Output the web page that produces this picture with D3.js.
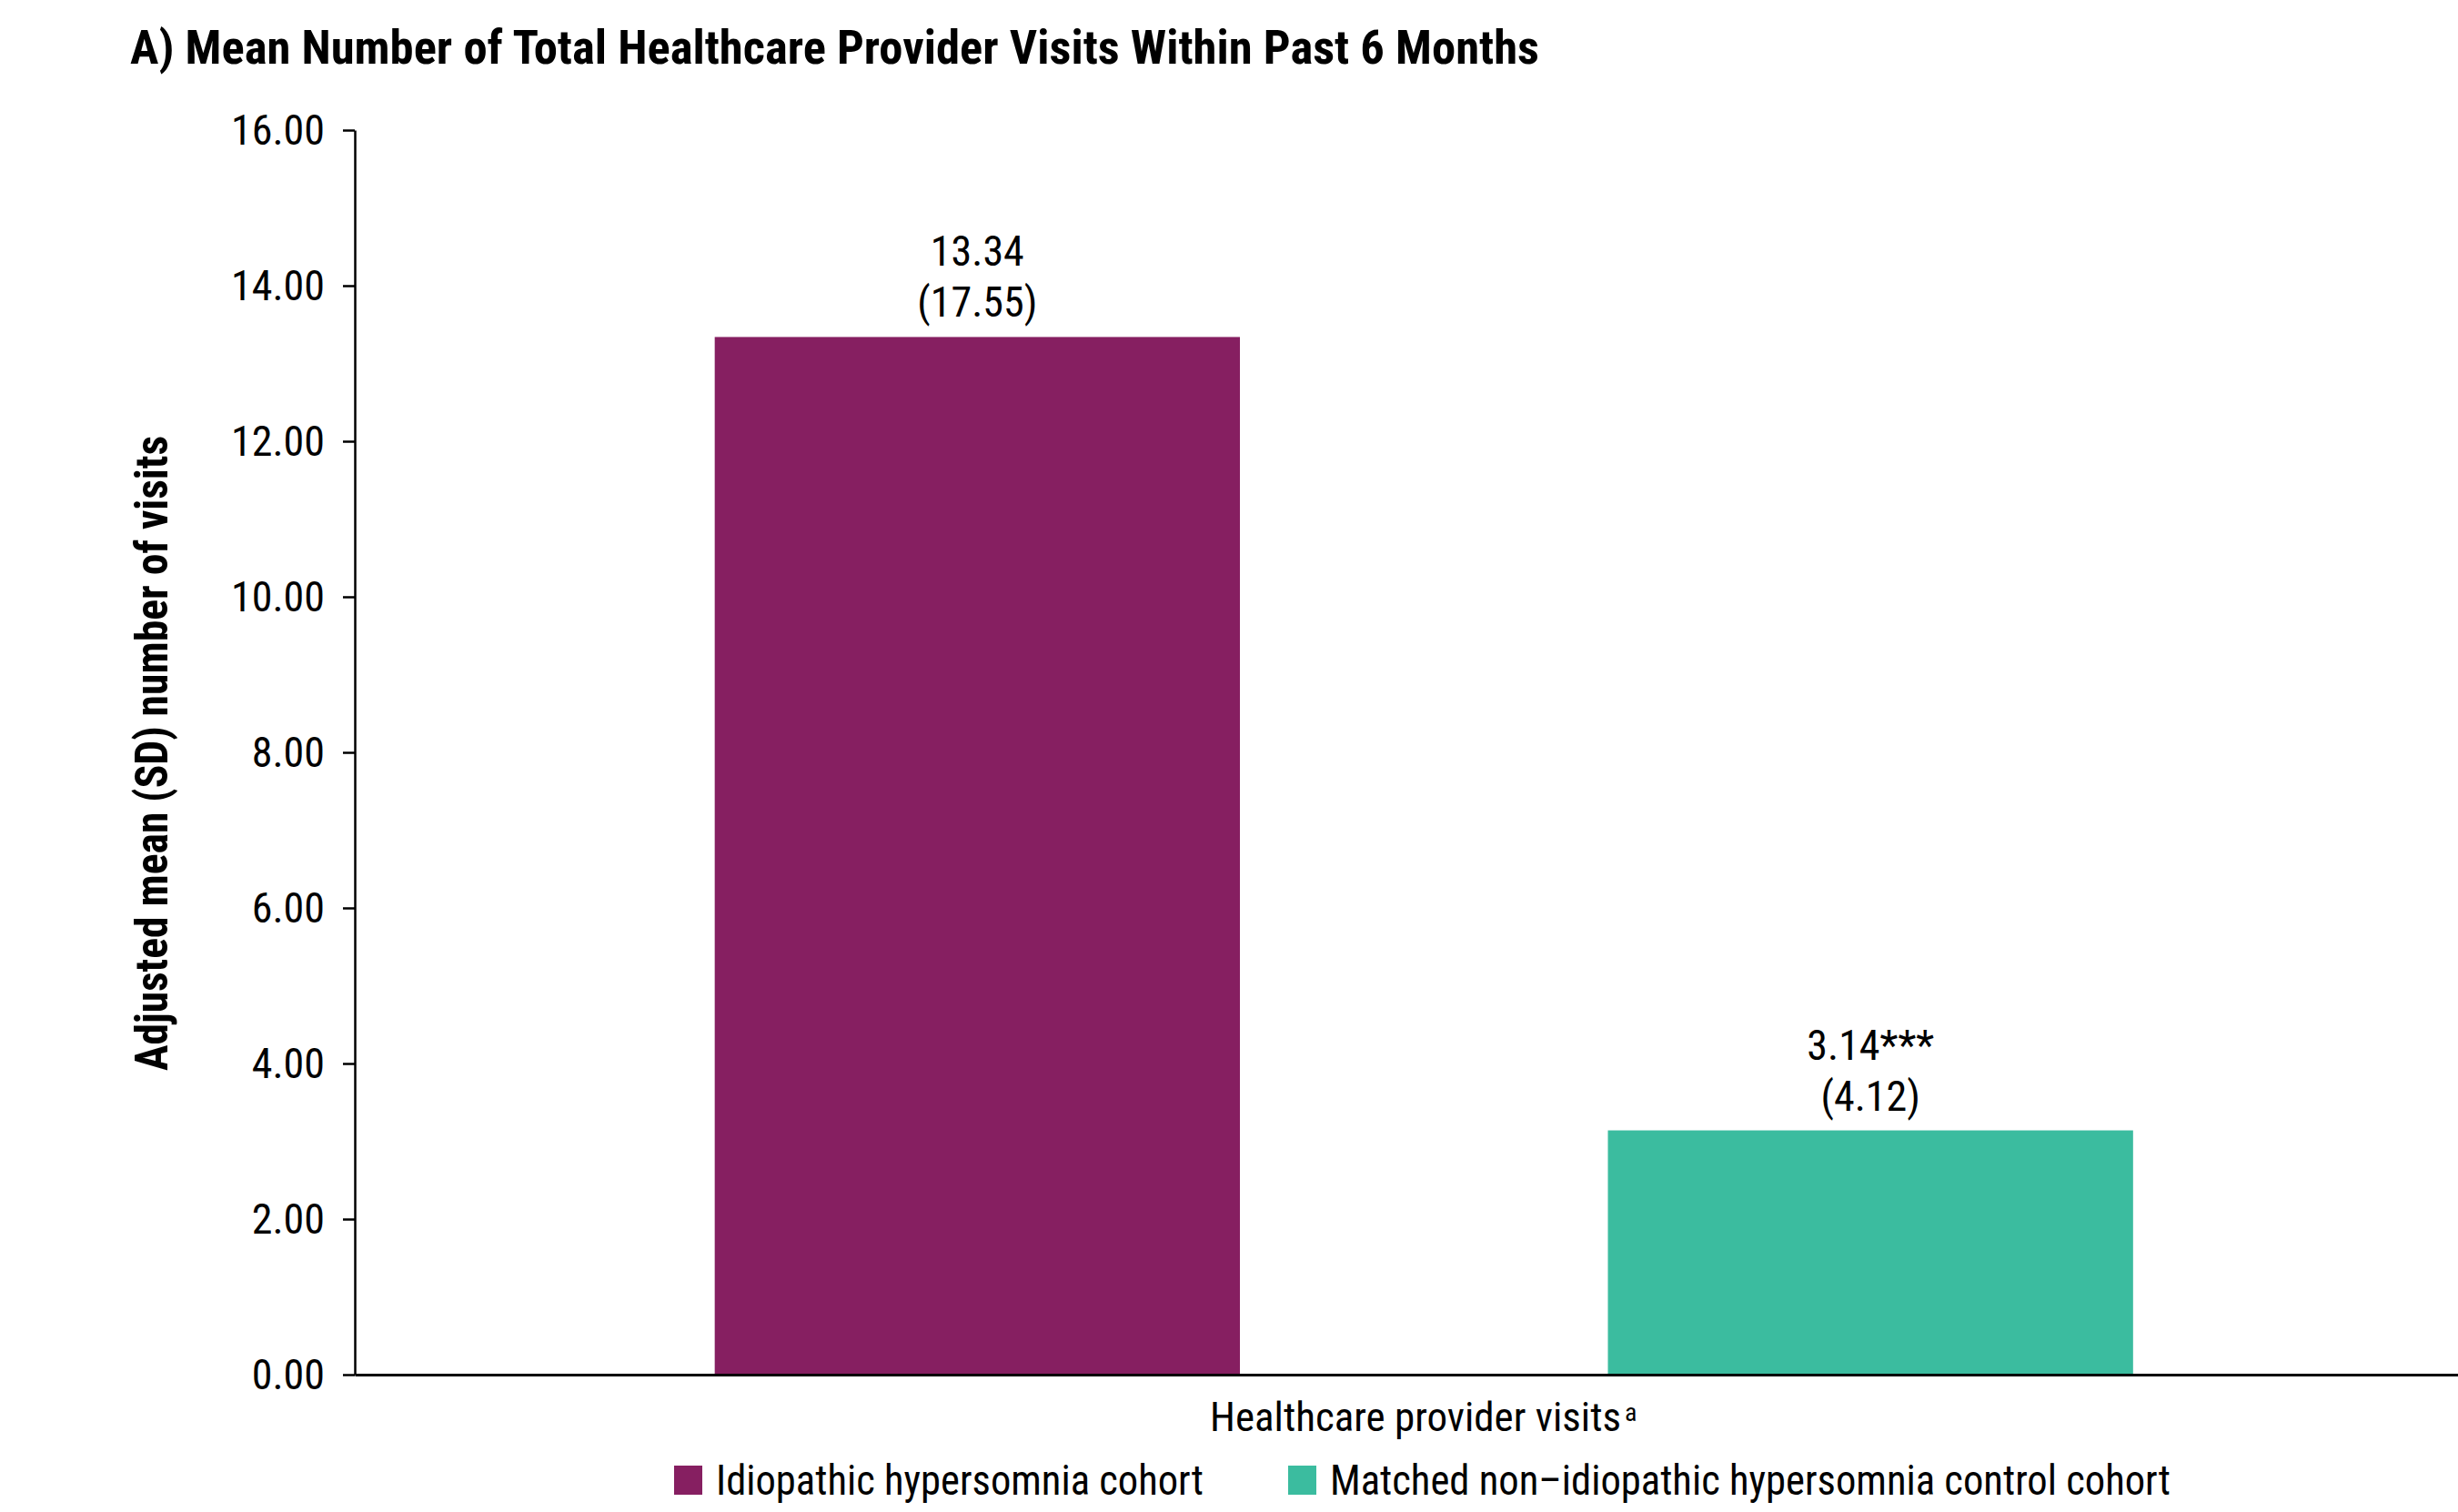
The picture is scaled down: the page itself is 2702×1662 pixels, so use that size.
<!DOCTYPE html>
<html>
<head>
<meta charset="utf-8">
<script src="https://cdn.jsdelivr.net/npm/d3@7"></script>
<style>
  html, body { margin: 0; padding: 0; background: #fff; }
  svg { display: block; }
  text { font-family: "Liberation Sans Narrow", "Arial Narrow", "Roboto Condensed", "Liberation Sans", sans-serif; fill: #000; }
</style>
</head>
<body>
<script>
// Cohorts, their adjusted means, SDs and significance markers
const categories = ["Idiopathic hypersomnia cohort", "Matched non\u2013idiopathic hypersomnia control cohort"];
const means = [13.34, 3.14];
const sds = [17.55, 4.12];
const significance = ["", "***"];
const colors = ["#861F61", "#3BBC9F"];
const yTicks = [0, 2, 4, 6, 8, 10, 12, 14, 16];

const chartTitle = "A) Mean Number of Total Healthcare Provider Visits Within Past 6 Months";
const yTitle = "Adjusted mean (SD) number of visits";
const xTitle = "Healthcare provider visits";
const xTitleNote = "a";

const W = 2702, H = 1662;
const svg = d3.select("body").append("svg").attr("width", W).attr("height", H);

const x = d3.scaleBand()
  .domain(categories)
  .range([390, 2740.5])
  .paddingInner(0.412)
  .paddingOuter(0.403);

const y = d3.scaleLinear().domain([0, 16]).range([1511, 143]);

// Stretch a text element to a given rendered width
function fit(sel, w) {
  sel.attr("textLength", w).attr("lengthAdjust", "spacingAndGlyphs");
}

// Title
svg.append("text")
  .attr("x", 143).attr("y", 70)
  .attr("font-size", 52).attr("font-weight", "bold")
  .text(chartTitle)
  .call(fit, 1549);

// Bars
svg.selectAll("rect.bar")
  .data(categories)
  .join("rect")
  .attr("class", "bar")
  .attr("x", d => x(d))
  .attr("width", x.bandwidth())
  .attr("y", (d, i) => y(means[i]))
  .attr("height", (d, i) => y(0) - y(means[i]))
  .attr("fill", (d, i) => colors[i]);

// Value labels: mean on the first line, SD in parentheses below
const lbl = svg.selectAll("g.lbl")
  .data(categories)
  .join("g")
  .attr("class", "lbl")
  .attr("transform", (d, i) => `translate(${x(d) + x.bandwidth() / 2},${y(means[i])})`);
lbl.append("text")
  .attr("text-anchor", "middle").attr("y", -78).attr("font-size", 46)
  .text((d, i) => means[i].toFixed(2) + significance[i]);
lbl.append("text")
  .attr("text-anchor", "middle").attr("y", -22).attr("font-size", 46)
  .text((d, i) => `(${sds[i].toFixed(2)})`);

// Y axis
const yAxis = svg.append("g")
  .attr("transform", "translate(390,0)")
  .call(d3.axisLeft(y).tickValues(yTicks).tickFormat(d3.format(".2f"))
    .tickSize(13).tickSizeOuter(0).tickPadding(20));
yAxis.select(".domain").attr("stroke", "#000").attr("stroke-width", 2.5);
yAxis.selectAll(".tick line").attr("stroke", "#000").attr("stroke-width", 2.5);
yAxis.selectAll(".tick text")
  .attr("font-size", 46).attr("font-family", null).attr("dy", "0.34em");

// X axis baseline
const xAxis = svg.append("g")
  .attr("transform", `translate(0,${y(0)})`)
  .call(d3.axisBottom(x).tickSize(0).tickSizeOuter(0).tickFormat(""));
xAxis.select(".domain").attr("stroke", "#000").attr("stroke-width", 3);

// Axis titles
svg.append("text")
  .attr("transform", "translate(184,828) rotate(-90)")
  .attr("text-anchor", "middle")
  .attr("font-size", 50).attr("font-weight", "bold")
  .text(yTitle)
  .call(fit, 698);

// X title with a superscript footnote marker placed right after it
const xt = svg.append("text")
  .attr("x", 1330).attr("y", 1573)
  .attr("font-size", 45)
  .text(xTitle);
const xtEnd = 1330 + xt.node().getComputedTextLength();
svg.append("text")
  .attr("x", xtEnd + 4).attr("y", 1562)
  .attr("font-size", 28)
  .text(xTitleNote);

// Legend
const legendX = [741, 1416];
const legendW = [536, 924];
const leg = svg.selectAll("g.leg")
  .data(categories)
  .join("g")
  .attr("class", "leg")
  .attr("transform", (d, i) => `translate(${legendX[i]},1611)`);
leg.append("rect").attr("width", 31).attr("height", 32).attr("fill", (d, i) => colors[i]);
leg.append("text")
  .attr("x", 46).attr("y", 32).attr("font-size", 46)
  .text(d => d)
  .each(function (d, i) { d3.select(this).call(fit, legendW[i]); });
</script>
</body>
</html>
